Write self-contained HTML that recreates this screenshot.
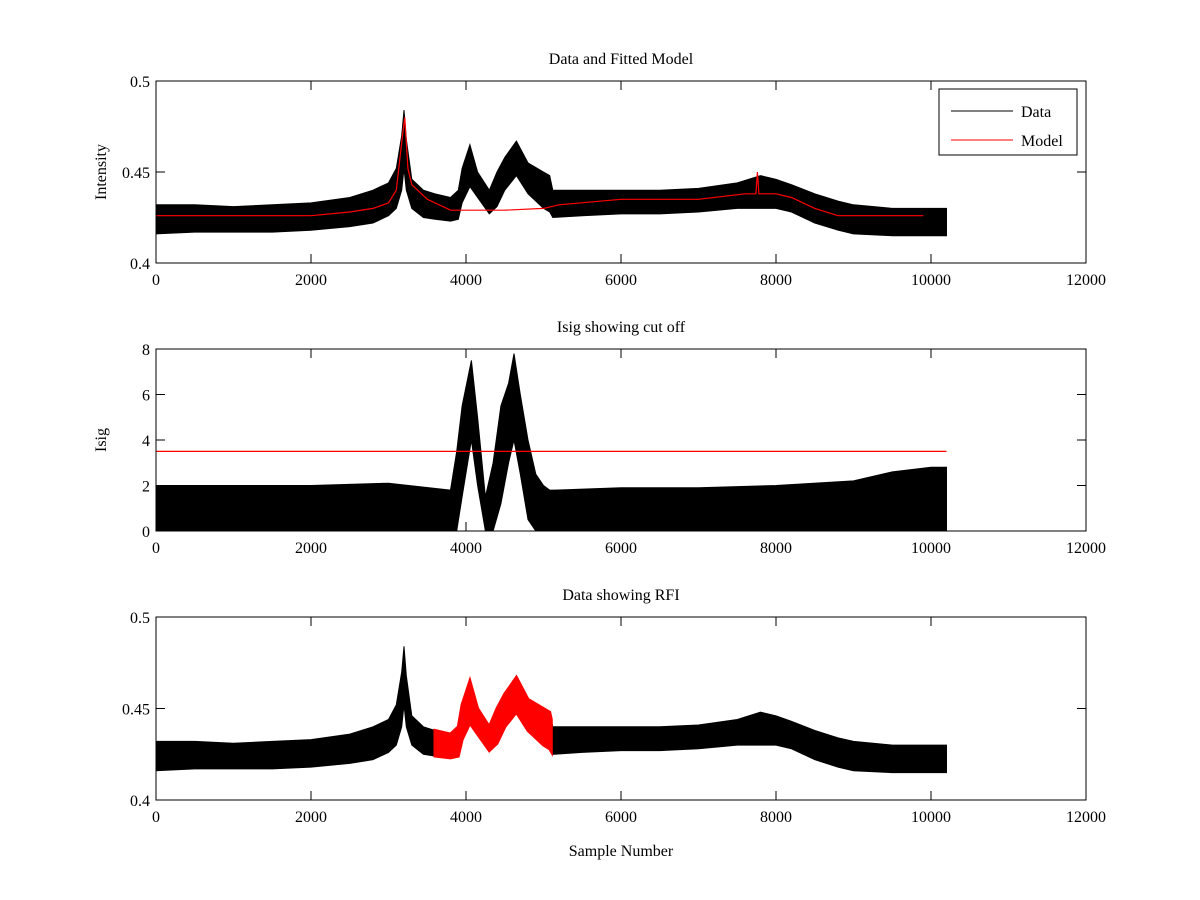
<!DOCTYPE html>
<html><head><meta charset="utf-8"><style>
body{margin:0;background:#fff}
svg{display:block;font-family:"Liberation Serif",serif}
</style></head><body>
<svg id="fig" width="1200" height="900" xmlns="http://www.w3.org/2000/svg"></svg>
<script>
// ---- data ----
const xTicks = [0,2000,4000,6000,8000,10000,12000];
const dataX   = [0,500,1000,1500,2000,2500,2800,3000,3100,3170,3200,3230,3300,3450,3600,3800,3900,3950,4050,4150,4300,4400,4500,4650,4800,5000,5080,5120,5500,6000,6500,7000,7500,7800,8000,8200,8500,8800,9000,9500,10000,10200];
const dataLo  = [0.416,0.417,0.417,0.417,0.418,0.420,0.422,0.426,0.430,0.440,0.452,0.440,0.430,0.425,0.424,0.423,0.424,0.433,0.442,0.436,0.427,0.431,0.440,0.448,0.438,0.430,0.428,0.425,0.426,0.427,0.427,0.428,0.430,0.430,0.430,0.428,0.422,0.418,0.416,0.415,0.415,0.415];
const dataHi  = [0.432,0.432,0.431,0.432,0.433,0.436,0.440,0.444,0.452,0.470,0.484,0.468,0.446,0.440,0.438,0.436,0.440,0.452,0.465,0.450,0.440,0.450,0.458,0.467,0.455,0.450,0.448,0.440,0.440,0.440,0.440,0.441,0.444,0.448,0.446,0.443,0.438,0.434,0.432,0.430,0.430,0.430];
const modelX  = [0,1000,2000,2500,2800,3000,3100,3180,3210,3250,3300,3500,3800,4500,5000,5200,6000,7000,7600,7740,7760,7780,8000,8200,8500,8800,9900];
const modelY  = [0.426,0.426,0.426,0.428,0.430,0.433,0.440,0.470,0.480,0.452,0.443,0.435,0.429,0.429,0.430,0.432,0.435,0.435,0.438,0.438,0.450,0.438,0.438,0.436,0.430,0.426,0.426];
const isigX   = [0,1000,2000,3000,3800,3880,3950,4070,4150,4250,4350,4450,4550,4620,4700,4800,4900,5000,5080,5150,6000,7000,8000,9000,9500,10000,10200];
const isigLo  = [0,0,0,0,0,0,1.5,4.0,2.0,0,0,1.2,3.0,4.0,2.5,0.5,0,0,0,0,0,0,0,0,0,0,0];
const isigHi  = [2.0,2.0,2.0,2.1,1.8,3.5,5.5,7.5,5.0,1.5,3.0,5.5,6.5,7.8,6.0,4.0,2.5,2.0,1.8,1.8,1.9,1.9,2.0,2.2,2.6,2.8,2.8];
const cutoff  = 3.5;
const rfiStart = 3600, rfiEnd = 5100;

const svg = document.getElementById('fig');
const NS = 'http://www.w3.org/2000/svg';
function mk(tag, attrs, parent){const e=document.createElementNS(NS,tag);for(const k in attrs)e.setAttribute(k,attrs[k]);(parent||svg).appendChild(e);return e;}

const X0=156, X1=1086;
function sx(v){return X0+(v-0)/(12000)*(X1-X0);}
function axisY(top,bottom,min,max){return v=>bottom-(v-min)/(max-min)*(bottom-top);}

function band(xs,lo,hi,sy,color,name,from,to){
  let pts=[];
  const idx=[];for(let i=0;i<xs.length;i++){if(xs[i]>=from&&xs[i]<=to)idx.push(i);}
  idx.forEach(i=>pts.push(sx(xs[i]).toFixed(1)+','+sy(hi[i]).toFixed(1)));
  idx.slice().reverse().forEach(i=>pts.push(sx(xs[i]).toFixed(1)+','+sy(lo[i]).toFixed(1)));
  const p=mk('polygon',{points:pts.join(' '),fill:color,stroke:color,'stroke-width':color==='#f00'?3:1});
  
  
}
function interp(xs,ys,x){for(let i=0;i<xs.length-1;i++){if(x>=xs[i]&&x<=xs[i+1]){const t=(x-xs[i])/(xs[i+1]-xs[i]);return ys[i]+t*(ys[i+1]-ys[i]);}}return ys[ys.length-1];}

function axes(top,bottom,yTicks,yLabels,title,ylabel,name){
  const g=mk('g',{});
  
  
  const sy=axisY(top,bottom,yTicks[0],yTicks[yTicks.length-1]);
  mk('rect',{x:X0,y:top,width:X1-X0,height:bottom-top,fill:'none',stroke:'#000','stroke-width':1},g);
  xTicks.forEach(t=>{const x=sx(t);
    mk('line',{x1:x,x2:x,y1:bottom,y2:bottom-9,stroke:'#000'},g);
    mk('line',{x1:x,x2:x,y1:top,y2:top+9,stroke:'#000'},g);
    const tx=mk('text',{x:x,y:bottom+22,'text-anchor':'middle','font-size':16},g);tx.textContent=t;
    });
  yTicks.forEach((t,i)=>{const y=sy(t);
    mk('line',{x1:X0,x2:X0+9,y1:y,y2:y,stroke:'#000'},g);
    mk('line',{x1:X1,x2:X1-9,y1:y,y2:y,stroke:'#000'},g);
    const tx=mk('text',{x:X0-6,y:y+6,'text-anchor':'end','font-size':16},g);tx.textContent=yLabels[i];
    });
  const tt=mk('text',{x:(X0+X1)/2,y:top-17,'text-anchor':'middle','font-size':16},g);tt.textContent=title;
  
  if(ylabel){const yl=mk('text',{x:0,y:0,'text-anchor':'middle','font-size':16,transform:`translate(106,${(top+bottom)/2}) rotate(-90)`},g);yl.textContent=ylabel;
    }
  return sy;
}

// ---- Plot 1 ----
let sy1=axisY(81,263,0.4,0.5);
band(dataX,dataLo,dataHi,sy1,'#000','data-band',0,10200);
let mp=modelX.map((x,i)=>sx(x).toFixed(1)+','+sy1(modelY[i]).toFixed(1)).join(' ');
let ml=mk('polyline',{points:mp,fill:'none',stroke:'#f00','stroke-width':1.2});

axes(81,263,[0.4,0.45,0.5],['0.4','0.45','0.5'],'Data and Fitted Model','Intensity','plot-data-model');
// legend
const lg=mk('g',{});

mk('rect',{x:939,y:89,width:138,height:66,fill:'#fff',stroke:'#000'},lg);
mk('line',{x1:951,x2:1013,y1:111,y2:111,stroke:'#000'},lg);
mk('line',{x1:951,x2:1013,y1:140,y2:140,stroke:'#f00'},lg);
let t1=mk('text',{x:1021,y:117,'font-size':16},lg);t1.textContent='Data';

let t2=mk('text',{x:1021,y:146,'font-size':16},lg);t2.textContent='Model';


// ---- Plot 2 ----
let sy2=axisY(349,531,0,8);
band(isigX,isigLo,isigHi,sy2,'#000','isig-band',0,10200);
let cl=mk('line',{x1:sx(0),x2:sx(10200),y1:sy2(cutoff),y2:sy2(cutoff),stroke:'#f00','stroke-width':1.2});

axes(349,531,[0,2,4,6,8],['0','2','4','6','8'],'Isig showing cut off','Isig','plot-isig');

// ---- Plot 3 ----
let sy3=axisY(617,800,0.4,0.5);
band(dataX,dataLo,dataHi,sy3,'#000','data-band',0,10200);
const rx=[rfiStart].concat(dataX.filter(x=>x>rfiStart&&x<rfiEnd)).concat([rfiEnd]);
const rlo=rx.map(x=>interp(dataX,dataLo,x)), rhi=rx.map(x=>interp(dataX,dataHi,x));
band(rx,rlo,rhi,sy3,'#f00','rfi-band',0,12000);
axes(617,800,[0.4,0.45,0.5],['0.4','0.45','0.5'],'Data showing RFI','','plot-rfi');
let xl=mk('text',{x:(X0+X1)/2,y:856,'text-anchor':'middle','font-size':16});xl.textContent='Sample Number';

</script>
</body></html>
